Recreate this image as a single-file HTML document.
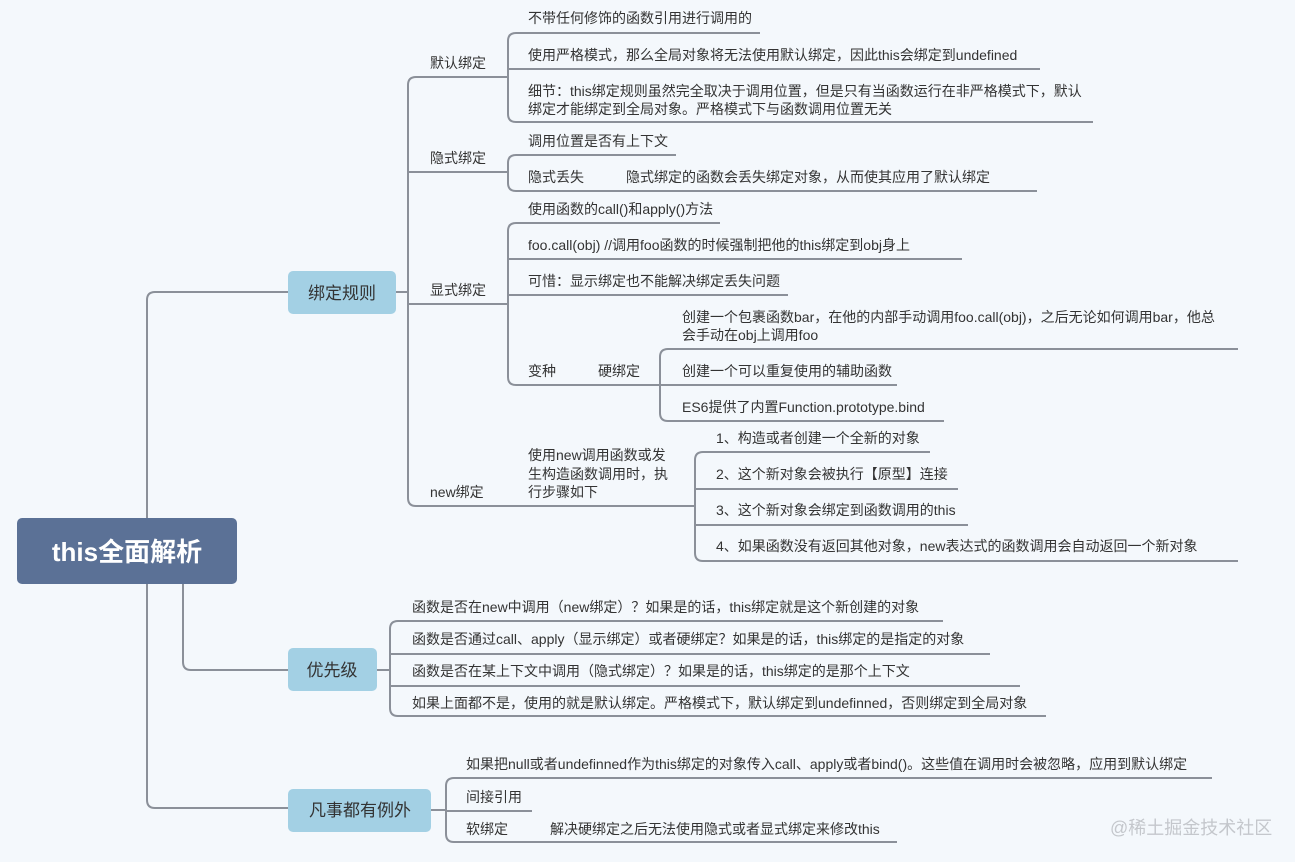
<!DOCTYPE html>
<html><head><meta charset="utf-8">
<style>
html,body{margin:0;padding:0;background:#f4f8fc;}
svg{display:block;}
text{font-family:"Liberation Sans","Noto Sans CJK SC",sans-serif;fill:#333;font-size:14px;}
.l{fill:none;stroke:#8b9099;stroke-width:2;}
</style></head><body>
<svg width="1295" height="862" viewBox="0 0 1295 862" xmlns="http://www.w3.org/2000/svg">
<rect width="1295" height="862" fill="#f4f8fc"/>
<path class="l" d="M147,518 L147,300 Q147,292 155,292 L288,292"/>
<path class="l" d="M147,584 L147,800 Q147,808 155,808 L288,808"/>
<path class="l" d="M183,584 L183,662 Q183,670 191,670 L288,670"/>
<rect x="17" y="518" width="220" height="66" rx="5" fill="#5b7196"/>
<text x="127" y="561" text-anchor="middle" style="font-size:26px;font-weight:bold;fill:#fff">this全面解析</text>
<rect x="288" y="271" width="108" height="43" rx="5" fill="#a3d0e4"/>
<text x="342" y="299" text-anchor="middle" style="font-size:17px">绑定规则</text>
<rect x="288" y="648" width="89" height="43" rx="5" fill="#a3d0e4"/>
<text x="332" y="676" text-anchor="middle" style="font-size:17px">优先级</text>
<rect x="288" y="789" width="143" height="43" rx="5" fill="#a3d0e4"/>
<text x="360" y="816" text-anchor="middle" style="font-size:17px">凡事都有例外</text>

<path class="l" d="M396,292 L408,292"/>
<path class="l" d="M508,77 L416,77 Q408,77 408,85 L408,498 Q408,506 416,506 L508,506"/>
<path class="l" d="M408,172 L508,172 M408,304 L508,304"/>
<text x="430" y="68">默认绑定</text>
<text x="430" y="163">隐式绑定</text>
<text x="430" y="295">显式绑定</text>
<text x="430" y="497">new绑定</text>

<path class="l" d="M760,33 L516,33 Q508,33 508,41 L508,114 Q508,122 516,122 L1093,122"/>
<path class="l" d="M508,69 L1040,69"/>
<text x="528" y="23">不带任何修饰的函数引用进行调用的</text>
<text x="528" y="60">使用严格模式，那么全局对象将无法使用默认绑定，因此this会绑定到undefined</text>
<text x="528" y="96">细节：this绑定规则虽然完全取决于调用位置，但是只有当函数运行在非严格模式下，默认</text>
<text x="528" y="114">绑定才能绑定到全局对象。严格模式下与函数调用位置无关</text>

<path class="l" d="M676,155 L516,155 Q508,155 508,163 L508,183 Q508,191 516,191 L1037,191"/>
<text x="528" y="146">调用位置是否有上下文</text>
<text x="528" y="182">隐式丢失</text>
<text x="626" y="182">隐式绑定的函数会丢失绑定对象，从而使其应用了默认绑定</text>

<path class="l" d="M720,223 L516,223 Q508,223 508,231 L508,377 Q508,385 516,385 L897,385"/>
<path class="l" d="M508,259 L962,259 M508,295 L788,295"/>
<text x="528" y="214">使用函数的call()和apply()方法</text>
<text x="528" y="250">foo.call(obj)  //调用foo函数的时候强制把他的this绑定到obj身上</text>
<text x="528" y="286">可惜：显示绑定也不能解决绑定丢失问题</text>
<text x="528" y="376">变种</text>
<text x="598" y="376">硬绑定</text>
<path class="l" d="M1238,349 L668,349 Q660,349 660,357 L660,413 Q660,421 668,421 L944,421"/>
<text x="682" y="322">创建一个包裹函数bar，在他的内部手动调用foo.call(obj)，之后无论如何调用bar，他总</text>
<text x="682" y="340">会手动在obj上调用foo</text>
<text x="682" y="376">创建一个可以重复使用的辅助函数</text>
<text x="682" y="412">ES6提供了内置Function.prototype.bind</text>

<path class="l" d="M508,506 L695,506"/>
<text x="528" y="460">使用new调用函数或发</text>
<text x="528" y="479">生构造函数调用时，执</text>
<text x="528" y="497">行步骤如下</text>
<path class="l" d="M930,452 L703,452 Q695,452 695,460 L695,553 Q695,561 703,561 L1238,561"/>
<path class="l" d="M695,489 L958,489 M695,525 L968,525"/>
<text x="716" y="443">1、构造或者创建一个全新的对象</text>
<text x="716" y="479">2、这个新对象会被执行【原型】连接</text>
<text x="716" y="515">3、这个新对象会绑定到函数调用的this</text>
<text x="716" y="551">4、如果函数没有返回其他对象，new表达式的函数调用会自动返回一个新对象</text>

<path class="l" d="M377,670 L390,670"/>
<path class="l" d="M943,621 L398,621 Q390,621 390,629 L390,708 Q390,716 398,716 L1046,716"/>
<path class="l" d="M390,654 L990,654 M390,686 L1020,686"/>
<text x="412" y="612">函数是否在new中调用（new绑定）？如果是的话，this绑定就是这个新创建的对象</text>
<text x="412" y="644">函数是否通过call、apply（显示绑定）或者硬绑定？如果是的话，this绑定的是指定的对象</text>
<text x="412" y="676">函数是否在某上下文中调用（隐式绑定）？如果是的话，this绑定的是那个上下文</text>
<text x="412" y="708">如果上面都不是，使用的就是默认绑定。严格模式下，默认绑定到undefinned，否则绑定到全局对象</text>

<path class="l" d="M431,810 L446,810"/>
<path class="l" d="M1212,778 L454,778 Q446,778 446,786 L446,834 Q446,842 454,842 L897,842"/>
<path class="l" d="M446,811 L532,811"/>
<text x="466" y="769">如果把null或者undefinned作为this绑定的对象传入call、apply或者bind()。这些值在调用时会被忽略，应用到默认绑定</text>
<text x="466" y="802">间接引用</text>
<text x="466" y="834">软绑定</text>
<text x="550" y="834">解决硬绑定之后无法使用隐式或者显式绑定来修改this</text>

<text x="1110" y="834" style="font-size:18px;fill:#c4c7cc">@稀土掘金技术社区</text>
</svg>
</body></html>
